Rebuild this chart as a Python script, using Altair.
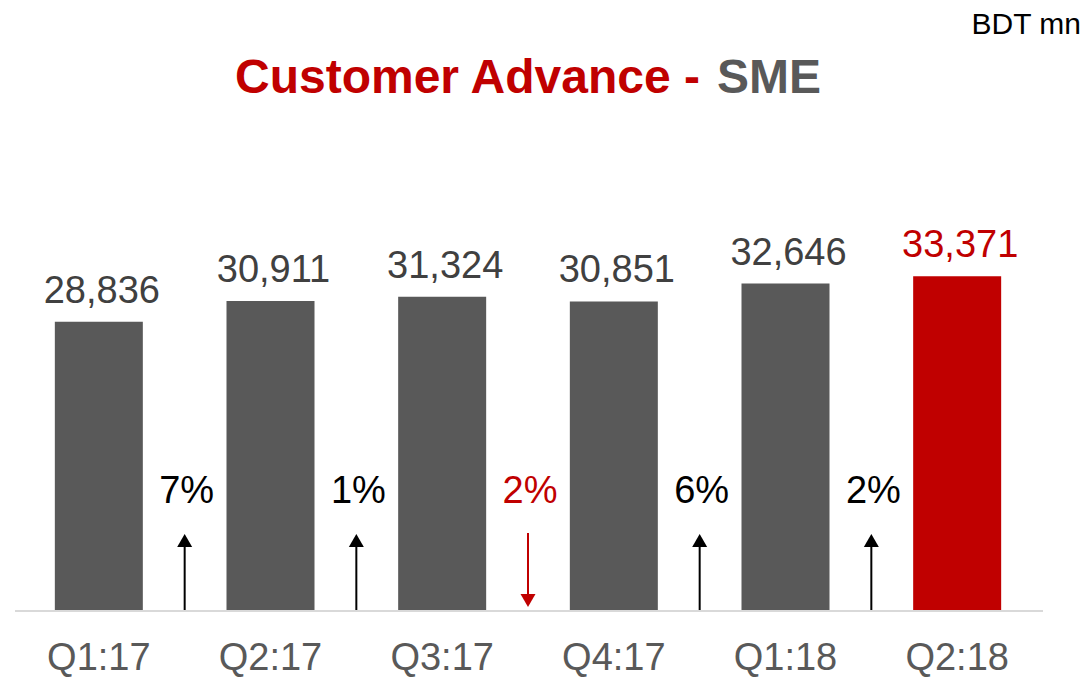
import altair as alt
import pandas as pd

quarters = ["Q1:17", "Q2:17", "Q3:17", "Q4:17", "Q1:18", "Q2:18"]
values = [28836, 30911, 31324, 30851, 32646, 33371]
growth_labels = ["7%", "1%", "2%", "6%", "2%"]
growth_dir = ["up", "up", "down", "up", "up"]

GRAY = "#595959"
RED = "#C00000"
FONT = "Liberation Sans"

bars = pd.DataFrame({
    "idx": list(range(len(quarters))),
    "quarter": quarters,
    "value": values,
    "label": [f"{v:,}" for v in values],
    "hl": ["no"] * (len(quarters) - 1) + ["yes"],
})
growth = pd.DataFrame({
    "pos": [i + 0.5 for i in range(len(growth_labels))],
    "label": growth_labels,
    "dir": growth_dir,
})

xs = alt.Scale(domain=[-0.5, 5.5], nice=False, zero=False, padding=0)
ys = alt.Scale(domain=[0, 40000], nice=False, padding=0)
X = alt.X("idx:Q", scale=xs, axis=None)
XG = alt.X("pos:Q", scale=xs, axis=None)

base = alt.Chart(bars)

bar_layer = base.mark_bar(size=88).encode(
    x=X,
    y=alt.Y("value:Q", scale=ys, axis=None),
    color=alt.Color("hl:N", scale=alt.Scale(domain=["no", "yes"], range=[GRAY, RED]), legend=None),
)

val_text = base.mark_text(font=FONT, fontSize=38, baseline="alphabetic", dy=-19, dx=3).encode(
    x=X,
    y=alt.Y("value:Q", scale=ys),
    text="label:N",
    color=alt.Color("hl:N", scale=alt.Scale(domain=["no", "yes"], range=["#404040", RED]), legend=None),
)

x_text = base.mark_text(font=FONT, fontSize=38, baseline="alphabetic", color=GRAY).encode(
    x=X,
    y=alt.value(460),
    text="quarter:N",
)

baseline_rule = alt.Chart(pd.DataFrame({"a": [0]})).mark_rule(color="#D9D9D9", strokeWidth=2).encode(
    x=alt.value(2), x2=alt.value(1030), y=alt.value(401)
)

g = alt.Chart(growth)
gcolor = alt.Color("dir:N", scale=alt.Scale(domain=["up", "down"], range=["#000000", RED]), legend=None)

pct_text = g.mark_text(font=FONT, fontSize=38, baseline="alphabetic", dx=2).encode(
    x=XG, y=alt.value(293), text="label:N", color=gcolor
)

up = g.transform_filter(alt.datum.dir == "up")
down = g.transform_filter(alt.datum.dir == "down")

up_shaft = up.mark_rule(strokeWidth=2, color="#000000").encode(
    x=XG, y=alt.value(400), y2=alt.value(336)
)
up_head = up.mark_point(shape="triangle-up", size=225, filled=True, opacity=1, color="#000000", strokeWidth=0).encode(
    x=XG, y=alt.value(330.5)
)
down_shaft = down.mark_rule(strokeWidth=2, color=RED).encode(
    x=XG, y=alt.value(323), y2=alt.value(386)
)
down_head = down.mark_point(shape="triangle-down", size=225, filled=True, opacity=1, color=RED, strokeWidth=0).encode(
    x=XG, y=alt.value(390.5)
)

one = alt.Chart(pd.DataFrame({"a": [0]}))
title_red = one.mark_text(font=FONT, fontSize=48, fontWeight="bold", color=RED, align="right", baseline="alphabetic").encode(
    x=alt.value(687), y=alt.value(-117), text=alt.value("Customer Advance -")
)
title_gray = one.mark_text(font=FONT, fontSize=48, fontWeight="bold", color=GRAY, align="left", baseline="alphabetic").encode(
    x=alt.value(704), y=alt.value(-117), text=alt.value("SME")
)
unit = one.mark_text(font=FONT, fontSize=30, color="#000000", align="right", baseline="alphabetic").encode(
    x=alt.value(1068), y=alt.value(-176), text=alt.value("BDT mn")
)

chart = alt.layer(
    baseline_rule, bar_layer, val_text, x_text,
    up_shaft, up_head, down_shaft, down_head, pct_text,
    title_red, title_gray, unit,
).properties(
    width=1030, height=400,
    padding={"left": 5, "top": 202, "right": 38, "bottom": 68},
    autosize=alt.AutoSizeParams(type="none"),
).configure_view(stroke=None).resolve_scale(color="independent")

chart.save("out.html", embed_options={"renderer": "svg", "actions": False})
